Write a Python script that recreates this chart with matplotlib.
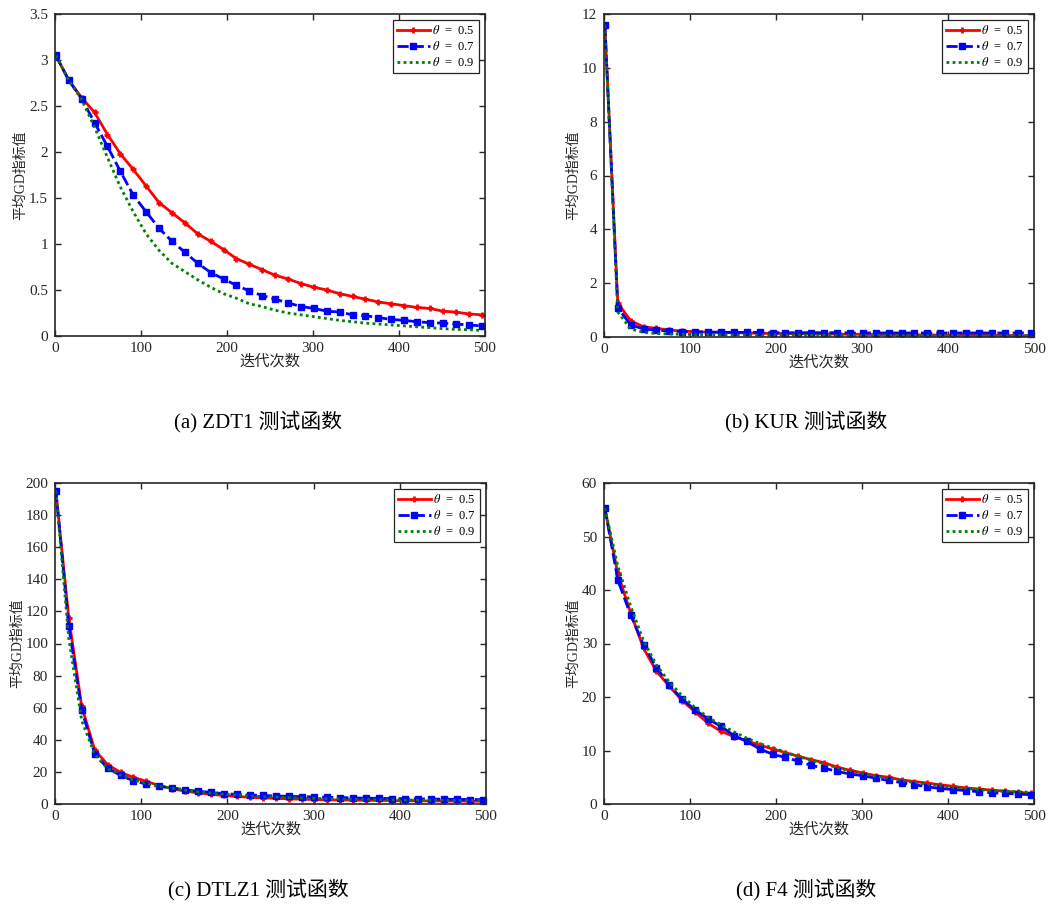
import matplotlib
matplotlib.use("Agg")
import matplotlib.pyplot as plt

plt.rcParams["font.family"] = ["Liberation Serif", "Noto Sans CJK SC"]
plt.rcParams["mathtext.fontset"] = "stix"

# iteration grid (markers every 15 iterations)
iters = list(range(1, 501, 15))

# ---- ZDT1 ----
zdt1_05 = [3.05, 2.78, 2.59, 2.43, 2.19, 1.98, 1.81, 1.63, 1.45, 1.34, 1.23, 1.11,
           1.03, 0.94, 0.84, 0.78, 0.72, 0.66, 0.62, 0.57, 0.53, 0.50, 0.46, 0.43,
           0.40, 0.37, 0.35, 0.33, 0.31, 0.30, 0.27, 0.26, 0.24, 0.23]
zdt1_07 = [3.05, 2.78, 2.58, 2.32, 2.06, 1.79, 1.53, 1.35, 1.17, 1.03, 0.91, 0.79,
           0.69, 0.62, 0.55, 0.49, 0.44, 0.40, 0.36, 0.32, 0.30, 0.27, 0.26, 0.23,
           0.22, 0.20, 0.18, 0.17, 0.155, 0.145, 0.14, 0.13, 0.12, 0.11]
zdt1_09 = [3.05, 2.78, 2.57, 2.27, 1.94, 1.62, 1.35, 1.11, 0.93, 0.79, 0.70, 0.61,
           0.53, 0.46, 0.41, 0.35, 0.32, 0.28, 0.25, 0.23, 0.21, 0.19, 0.17, 0.155,
           0.14, 0.13, 0.12, 0.11, 0.10, 0.09, 0.08, 0.072, 0.068, 0.061]

# ---- KUR ----
kur_05 = [11.6, 1.27, 0.60, 0.38, 0.32, 0.26, 0.22, 0.20, 0.18, 0.17, 0.16, 0.15,
          0.14, 0.13, 0.13, 0.12, 0.12, 0.11, 0.11, 0.10, 0.10, 0.09, 0.09, 0.08,
          0.08, 0.08, 0.07, 0.07, 0.07, 0.06, 0.06, 0.06, 0.05, 0.05]
kur_07 = [11.6, 1.09, 0.45, 0.30, 0.25, 0.22, 0.20, 0.19, 0.18, 0.18, 0.17, 0.17,
          0.17, 0.16, 0.16, 0.16, 0.16, 0.16, 0.16, 0.15, 0.15, 0.15, 0.15, 0.15,
          0.15, 0.15, 0.15, 0.15, 0.15, 0.15, 0.15, 0.15, 0.15, 0.16]
kur_09 = [11.6, 0.93, 0.30, 0.17, 0.13, 0.11, 0.10, 0.09, 0.09, 0.08, 0.08, 0.08,
          0.07, 0.07, 0.07, 0.07, 0.06, 0.06, 0.06, 0.06, 0.06, 0.06, 0.06, 0.05,
          0.05, 0.05, 0.05, 0.05, 0.05, 0.05, 0.05, 0.05, 0.05, 0.05]

# ---- DTLZ1 ----
dtlz1_05 = [195, 115.8, 60.8, 33.8, 24.5, 19.7, 16.6, 14.1, 11.5, 9.5, 8.0, 6.9,
            6.0, 5.3, 4.7, 4.2, 3.8, 3.5, 3.2, 3.0, 2.8, 2.6, 2.5, 2.4, 2.3, 2.2,
            2.1, 2.0, 1.95, 1.9, 1.85, 1.8, 1.75, 1.7]
dtlz1_07 = [195, 110.6, 58.7, 31.3, 22.4, 17.8, 14.5, 12.4, 11.0, 10.0, 8.9, 7.9,
            7.3, 6.4, 6.0, 5.6, 5.3, 5.0, 4.8, 4.6, 4.4, 4.2, 4.0, 3.8, 3.6, 3.5,
            3.4, 3.3, 3.2, 3.1, 3.0, 2.9, 2.8, 2.7]
dtlz1_09 = [195, 103, 52, 31, 22, 18, 15, 13, 11, 9.8, 8.6, 7.6, 6.8, 6.1, 5.5,
            5.0, 4.6, 4.3, 4.0, 3.7, 3.5, 3.3, 3.1, 2.9, 2.8, 2.7, 2.6, 2.5, 2.4,
            2.35, 2.3, 2.25, 2.2, 2.15]

# ---- F4 ----
f4_05 = [55.3, 43.1, 35.7, 29.1, 24.8, 22.0, 19.3, 17.2, 15.1, 13.6, 12.6, 11.8,
         11.0, 10.3, 9.6, 8.9, 8.3, 7.7, 6.9, 6.3, 5.8, 5.3, 5.0, 4.5, 4.2, 3.9,
         3.6, 3.3, 3.0, 2.8, 2.6, 2.4, 2.2, 2.0]
f4_07 = [55.3, 41.9, 35.3, 29.7, 25.5, 22.2, 19.6, 17.6, 15.9, 14.5, 12.8, 11.7,
         10.3, 9.3, 8.7, 8.0, 7.2, 6.7, 6.1, 5.6, 5.3, 4.8, 4.4, 4.0, 3.6, 3.2,
         2.9, 2.7, 2.5, 2.3, 2.1, 2.0, 1.85, 1.75]
f4_09 = [55.3, 44.5, 37.0, 30.5, 26.0, 22.8, 20.2, 18.0, 16.2, 14.8, 13.5, 12.3,
         11.3, 10.5, 9.7, 8.9, 8.2, 7.5, 6.8, 6.2, 5.7, 5.2, 4.8, 4.4, 4.0, 3.7,
         3.4, 3.1, 2.9, 2.7, 2.5, 2.4, 2.3, 2.2]

xticks = [0, 100, 200, 300, 400, 500]
zdt1_yticks = [0, 0.5, 1, 1.5, 2, 2.5, 3, 3.5]
kur_yticks = [0, 2, 4, 6, 8, 10, 12]
dtlz1_yticks = [0, 20, 40, 60, 80, 100, 120, 140, 160, 180, 200]
f4_yticks = [0, 10, 20, 30, 40, 50, 60]

panels = [
    ("(a) ZDT1 测试函数", zdt1_05, zdt1_07, zdt1_09, zdt1_yticks),
    ("(b) KUR 测试函数", kur_05, kur_07, kur_09, kur_yticks),
    ("(c) DTLZ1 测试函数", dtlz1_05, dtlz1_07, dtlz1_09, dtlz1_yticks),
    ("(d) F4 测试函数", f4_05, f4_07, f4_09, f4_yticks),
]

W, H = 1048, 910
# pixel boxes: left, top, right, bottom
boxes = [(55, 14, 485, 336), (604, 14, 1034, 337), (55, 483, 486, 804), (604, 483, 1034, 804)]
caption_xy = [(258, 422), (806, 422), (258, 890), (806, 890)]

fig = plt.figure(figsize=(W / 100, H / 100), dpi=100)
tick_col = "#262626"

for (title, s05, s07, s09, yticks), (l, t, r, b), (cx, cy) in zip(panels, boxes, caption_xy):
    ax = fig.add_axes([l / W, 1 - b / H, (r - l) / W, (b - t) / H])
    ax.plot(iters, s05, color="red", lw=2, marker="+", ms=5, mew=2,
            label=r"$\theta$  =  0.5")
    ax.plot(iters, s07, color="blue", lw=2, ls=(0, (4, 1.5)), marker="s", ms=4,
            label=r"$\theta$  =  0.7")
    ax.plot(iters, s09, color="green", lw=2, ls=(0, (1, 1.2)),
            label=r"$\theta$  =  0.9")
    ax.set_xlim(0, 500)
    ax.set_ylim(0, yticks[-1])
    ax.set_xticks(xticks)
    ax.set_yticks(yticks)
    ax.set_yticklabels([f"{v:g}" for v in yticks])
    ax.tick_params(direction="in", top=True, right=True, labelsize=11,
                   colors=tick_col, length=4, width=1)
    ax.tick_params(axis="x", pad=4)
    ax.tick_params(axis="y", pad=5)
    for sp in ax.spines.values():
        sp.set_linewidth(1.2)
        sp.set_color(tick_col)
    ax.set_xlabel("迭代次数", fontsize=11, color=tick_col, labelpad=0)
    ax.set_ylabel("平均GD指标值", fontsize=10, color=tick_col, labelpad=1)
    leg = ax.legend(loc="upper right", fontsize=9, frameon=True, fancybox=False,
                    edgecolor="#262626", framealpha=1, handlelength=2.6,
                    borderpad=0.3, labelspacing=0.25, handletextpad=0.2,
                    borderaxespad=0.5)
    leg.get_frame().set_linewidth(0.9)
    fig.text(cx / W, 1 - cy / H, title, ha="center", va="center", fontsize=15)

fig.savefig("out.png", dpi=100)
